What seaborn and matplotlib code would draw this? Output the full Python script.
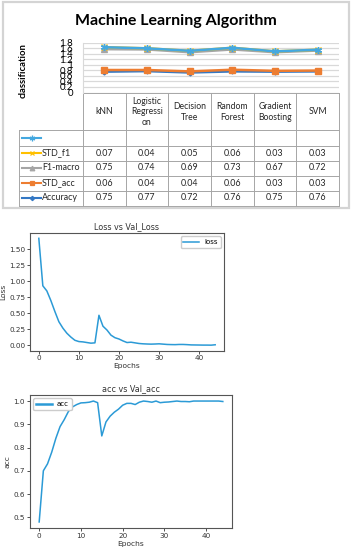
import numpy as np
import pandas as pd
import matplotlib
matplotlib.use("Agg")
import matplotlib.pyplot as plt
import seaborn as sns
from matplotlib.lines import Line2D
from matplotlib.patches import Rectangle

# ---------------- data ----------------
algorithms = ["kNN", "Logistic\nRegressi\non", "Decision\nTree", "Random\nForest",
              "Gradient\nBoosting", "SVM"]
accuracy = [0.75, 0.77, 0.72, 0.76, 0.75, 0.76]
std_acc = [0.06, 0.04, 0.04, 0.06, 0.03, 0.03]
f1_macro = [0.75, 0.74, 0.69, 0.73, 0.67, 0.72]
std_f1 = [0.07, 0.04, 0.05, 0.06, 0.03, 0.03]
blank_series = [np.nan, np.nan, np.nan, np.nan, np.nan, np.nan]
series_names = ["Accuracy", "STD_acc", "F1-macro", "STD_f1", ""]
top_yticks = [0, 0.2, 0.4, 0.6, 0.8, 1.0, 1.2, 1.4, 1.6, 1.8]

loss = [1.67, 0.93, 0.85, 0.70, 0.53, 0.37, 0.27, 0.19, 0.13, 0.08,
        0.06, 0.055, 0.045, 0.035, 0.04, 0.47, 0.30, 0.24, 0.16, 0.12,
        0.10, 0.07, 0.045, 0.05, 0.04, 0.03, 0.025, 0.022, 0.02, 0.022,
        0.025, 0.02, 0.015, 0.013, 0.012, 0.015, 0.015, 0.012, 0.008, 0.007,
        0.006, 0.005, 0.005, 0.004, 0.01]
acc = [0.48, 0.70, 0.73, 0.78, 0.84, 0.89, 0.92, 0.955, 0.975, 0.985,
       0.992, 0.993, 0.995, 1.0, 0.993, 0.85, 0.91, 0.935, 0.952, 0.965,
       0.982, 0.99, 0.99, 0.985, 0.995, 1.0, 0.998, 0.995, 1.0, 0.993,
       0.995, 0.996, 0.998, 1.0, 0.998, 0.998, 0.997, 1.0, 1.0, 1.0,
       1.0, 1.0, 1.0, 1.0, 0.998]
loss_xticks = [0, 10, 20, 30, 40]
loss_yticks = [0.00, 0.25, 0.50, 0.75, 1.00, 1.25, 1.50]
acc_yticks = [0.5, 0.6, 0.7, 0.8, 0.9, 1.0]

# ---------------- styles ----------------
W, H = 352, 550
series_colors = ["#3478C4", "#ED7D31", "#A5A5A5", "#FFC000", "#44A8E0"]
series_markers = ["D", "s", "^", "x", (6, 2, 0)]
series_msize = [2.5, 4, 4, 4, 5]
key_msize = [2.2, 3.3, 3.3, 3.3, 4]
line_color = "#2B9AD6"
TOPFONT = ["Lato", "DejaVu Sans"]


def rect(l, t, r, b):
    return [l / W, 1 - b / H, (r - l) / W, (b - t) / H]


fig = plt.figure(figsize=(W / 100, H / 100), dpi=100)
fig.patch.set_facecolor("white")

# overlay in pixel coordinates for frame and data table
ov = fig.add_axes([0, 0, 1, 1])
ov.set_xlim(0, W)
ov.set_ylim(H, 0)
ov.axis("off")
ov.add_patch(Rectangle((3, 2), 346, 206, fill=False, ec="#D4D4D4", lw=1.6))

# ---------------- top (Excel-like stacked line chart) ----------------
ax = fig.add_axes(rect(83, 42.5, 339, 92.5))
xpos = np.arange(len(algorithms))
stack = np.zeros(len(algorithms))
for name, vals, col, mk, ms in zip(series_names,
                                    [accuracy, std_acc, f1_macro, std_f1, blank_series],
                                    series_colors, series_markers, series_msize):
    stack = stack + np.nan_to_num(np.array(vals, dtype=float))
    sns.lineplot(x=xpos, y=stack.copy(), ax=ax, color=col, marker=mk, markersize=ms,
                 markeredgecolor=col, markerfacecolor=col, markeredgewidth=1.0,
                 linewidth=1.8, legend=False)
ax.set_xlim(-0.5, len(algorithms) - 0.5)
ax.set_ylim(0, 1.8)
ax.set_yticks(top_yticks)
ax.set_yticklabels([("%g" % v) for v in top_yticks], fontsize=7, family=TOPFONT)
ax.tick_params(axis="y", length=0, pad=7)
ax.set_xticks([])
ax.set_xlabel("")
ax.set_ylabel("")
ax.grid(axis="y", color="#D9D9D9", lw=0.9)
for s in ["top", "right", "bottom"]:
    ax.spines[s].set_visible(False)
ax.spines["left"].set_color("#D9D9D9")
ax.set_facecolor("none")

fig.text(176 / W, 1 - 21 / H, "Machine Learning Algorithm", ha="center", va="center",
         fontsize=11.5, fontweight="bold", family=TOPFONT)
fig.text(23 / W, 1 - 71 / H, "classification", ha="center", va="center",
         rotation=90, fontsize=6.8, fontweight="bold", family=TOPFONT)

# data table
col_edges = [83 + i * 256 / 6 for i in range(7)]
row_edges = [130, 145.5, 160.5, 175.5, 190.5, 205.5]
tcol = "#A6A6A6"
for xe in col_edges:
    ov.plot([xe, xe], [93, row_edges[-1]], color=tcol, lw=0.7)
ov.plot([19, 19], [row_edges[0], row_edges[-1]], color=tcol, lw=0.7)
for ye in row_edges:
    ov.plot([19, col_edges[-1]], [ye, ye], color=tcol, lw=0.7)
ov.plot([col_edges[0], col_edges[-1]], [93, 93], color=tcol, lw=0.7)

for i, name in enumerate(algorithms):
    cx = (col_edges[i] + col_edges[i + 1]) / 2
    ov.text(cx, 112, name, ha="center", va="center", fontsize=6.2, family=TOPFONT,
            linespacing=1.25, color="#262626")

table_rows = [("", blank_series, 4), ("STD_f1", std_f1, 3), ("F1-macro", f1_macro, 2),
              ("STD_acc", std_acc, 1), ("Accuracy", accuracy, 0)]
for r, (label, vals, si) in enumerate(table_rows):
    cy = (row_edges[r] + row_edges[r + 1]) / 2
    ov.add_line(Line2D([22, 41], [cy, cy], color=series_colors[si], lw=1.5))
    ov.add_line(Line2D([31.5], [cy], color=series_colors[si], lw=0,
                       marker=series_markers[si], markersize=key_msize[si],
                       markeredgewidth=0.9,
                       markerfacecolor=series_colors[si], markeredgecolor=series_colors[si]))
    ov.text(42, cy, label, ha="left", va="center", fontsize=6.4, family=TOPFONT,
            color="#262626")
    for i, v in enumerate(vals):
        if not np.isnan(v):
            cx = (col_edges[i] + col_edges[i + 1]) / 2
            ov.text(cx, cy, "%.2f" % v, ha="center", va="center", fontsize=6.4,
                    family=TOPFONT, color="#262626")

# ---------------- loss plot ----------------
epochs = np.arange(len(loss))
ax2 = fig.add_axes(rect(30, 233, 224, 350.5))
sns.lineplot(x=epochs, y=loss, ax=ax2, color=line_color, lw=1.1, label="loss")
ax2.set_title("Loss vs Val_Loss", fontsize=5.8, pad=2.5, color="#333333")
ax2.set_xlabel("Epochs", fontsize=5.4, labelpad=1.5, color="#333333")
ax2.set_ylabel("Loss", fontsize=5.4, labelpad=2, color="#333333")
ax2.set_xticks(loss_xticks)
ax2.set_yticks(loss_yticks)
ax2.set_yticklabels(["%.2f" % v for v in loss_yticks])
ax2.legend(loc="upper right", fontsize=5, handlelength=2.2, borderpad=0.4,
           framealpha=1, edgecolor="#cccccc", fancybox=True)

# ---------------- acc plot ----------------
ax3 = fig.add_axes(rect(30, 395, 232, 528))
sns.lineplot(x=epochs, y=acc, ax=ax3, color=line_color, lw=1.1, label="acc")
ax3.set_title("acc vs Val_acc", fontsize=5.8, pad=2.5, color="#333333")
ax3.set_xlabel("Epochs", fontsize=5.4, labelpad=1.5, color="#333333")
ax3.set_ylabel("acc", fontsize=5.4, labelpad=2, color="#333333")
ax3.set_xticks(loss_xticks)
ax3.set_yticks(acc_yticks)
ax3.legend(loc="upper left", fontsize=5, handlelength=2.2, borderpad=0.4,
           framealpha=1, edgecolor="#cccccc", fancybox=True)
for lh in ax3.get_legend().get_lines():
    lh.set_linewidth(1.8)

for a in (ax2, ax3):
    a.tick_params(labelsize=5.2, length=2, width=0.6, pad=1.5, colors="#333333")
    for s in a.spines.values():
        s.set_color("#555555")
        s.set_linewidth(0.8)

fig.savefig("out.png", dpi=100, facecolor="white")
